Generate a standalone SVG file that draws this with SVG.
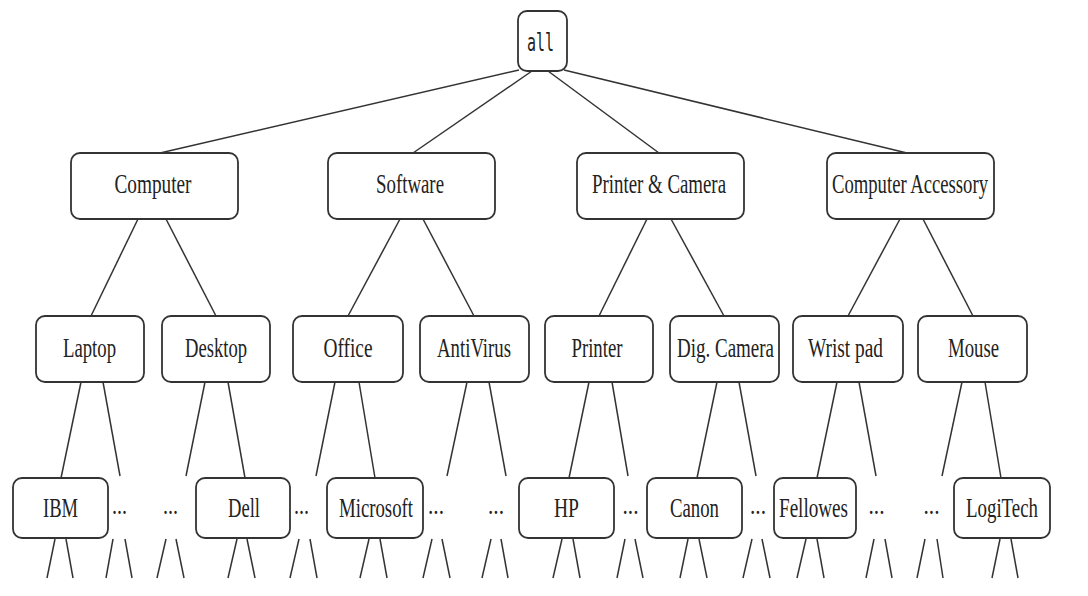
<svg xmlns="http://www.w3.org/2000/svg" width="1088" height="596" viewBox="0 0 1088 596">
<style>
.box{fill:#fff;stroke:#333;stroke-width:1.8}
.lbl{font-family:"Liberation Serif","Times New Roman",serif;font-size:27px;text-anchor:middle;fill:#222}
.mono{font-family:"DejaVu Sans Mono","Liberation Mono",monospace;font-size:24px;text-anchor:middle;fill:#222}
.edge line{stroke:#333;stroke-width:1.5;fill:none}
</style>
<rect width="1088" height="596" fill="#fff"/>
<g id="connectors" class="edge">
<line x1="519" y1="70" x2="160" y2="153"/>
<line x1="532" y1="71" x2="413" y2="153"/>
<line x1="548" y1="71" x2="659" y2="153"/>
<line x1="564" y1="70" x2="907" y2="153"/>
<line x1="138" y1="219" x2="91" y2="316"/>
<line x1="166" y1="219" x2="216" y2="316"/>
<line x1="400" y1="219" x2="348" y2="316"/>
<line x1="423" y1="219" x2="474" y2="316"/>
<line x1="647" y1="219" x2="599" y2="316"/>
<line x1="671" y1="219" x2="724" y2="316"/>
<line x1="900" y1="219" x2="848" y2="316"/>
<line x1="923" y1="219" x2="973" y2="316"/>
<line x1="81" y1="382" x2="61" y2="478"/>
<line x1="103" y1="382" x2="120" y2="476"/>
<line x1="205" y1="382" x2="186" y2="476"/>
<line x1="228" y1="382" x2="245" y2="478"/>
<line x1="335" y1="382" x2="316" y2="476"/>
<line x1="359" y1="382" x2="375" y2="478"/>
<line x1="467" y1="382" x2="447" y2="476"/>
<line x1="489" y1="382" x2="506" y2="476"/>
<line x1="589" y1="382" x2="569" y2="478"/>
<line x1="612" y1="382" x2="628" y2="476"/>
<line x1="717" y1="382" x2="697" y2="478"/>
<line x1="739" y1="382" x2="756" y2="476"/>
<line x1="837" y1="382" x2="817" y2="478"/>
<line x1="859" y1="382" x2="876" y2="476"/>
<line x1="962" y1="382" x2="942" y2="476"/>
<line x1="985" y1="382" x2="1001" y2="478"/>
<line x1="55" y1="539" x2="47" y2="578"/><line x1="66" y1="539" x2="73" y2="578"/>
<line x1="113" y1="539" x2="106" y2="578"/><line x1="125" y1="539" x2="132" y2="578"/>
<line x1="166" y1="539" x2="157" y2="578"/><line x1="176" y1="539" x2="184" y2="578"/>
<line x1="237" y1="539" x2="228" y2="578"/><line x1="247" y1="539" x2="255" y2="578"/>
<line x1="299" y1="539" x2="290" y2="578"/><line x1="310" y1="539" x2="317" y2="578"/>
<line x1="369" y1="539" x2="360" y2="578"/><line x1="380" y1="539" x2="387" y2="578"/>
<line x1="432" y1="539" x2="423" y2="578"/><line x1="442" y1="539" x2="450" y2="578"/>
<line x1="491" y1="539" x2="482" y2="578"/><line x1="501" y1="539" x2="508" y2="578"/>
<line x1="562" y1="539" x2="553" y2="578"/><line x1="573" y1="539" x2="580" y2="578"/>
<line x1="625" y1="539" x2="617" y2="578"/><line x1="635" y1="539" x2="643" y2="578"/>
<line x1="688" y1="539" x2="680" y2="578"/><line x1="699" y1="539" x2="707" y2="578"/>
<line x1="752" y1="539" x2="743" y2="578"/><line x1="762" y1="539" x2="770" y2="578"/>
<line x1="806" y1="539" x2="797" y2="578"/><line x1="817" y1="539" x2="824" y2="578"/>
<line x1="874" y1="539" x2="866" y2="578"/><line x1="885" y1="539" x2="892" y2="578"/>
<line x1="925" y1="539" x2="917" y2="578"/><line x1="937" y1="539" x2="943" y2="578"/>
<line x1="1000" y1="539" x2="992" y2="578"/><line x1="1011" y1="539" x2="1018" y2="578"/>
</g>
<g id="n-all"><rect class="box" x="518" y="11" width="49" height="60" rx="9"/><text class="mono" x="540.5" y="51" textLength="27" lengthAdjust="spacingAndGlyphs">all</text></g>
<g id="n-computer"><rect class="box" x="71" y="153" width="167" height="66" rx="9"/><text class="lbl" x="153" y="193" textLength="77" lengthAdjust="spacingAndGlyphs">Computer</text></g>
<g id="n-software"><rect class="box" x="328" y="153" width="167" height="66" rx="9"/><text class="lbl" x="410" y="193" textLength="68" lengthAdjust="spacingAndGlyphs">Software</text></g>
<g id="n-printer-camera"><rect class="box" x="577" y="153" width="167" height="66" rx="9"/><text class="lbl" x="659" y="193" textLength="134" lengthAdjust="spacingAndGlyphs">Printer &amp; Camera</text></g>
<g id="n-computer-accessory"><rect class="box" x="827" y="153" width="167" height="66" rx="9"/><text class="lbl" x="910" y="193" textLength="156" lengthAdjust="spacingAndGlyphs">Computer Accessory</text></g>
<g id="n-laptop"><rect class="box" x="36" y="316" width="108" height="66" rx="9"/><text class="lbl" x="89.5" y="357" textLength="53" lengthAdjust="spacingAndGlyphs">Laptop</text></g>
<g id="n-desktop"><rect class="box" x="162" y="316" width="108" height="66" rx="9"/><text class="lbl" x="216" y="357" textLength="62" lengthAdjust="spacingAndGlyphs">Desktop</text></g>
<g id="n-office"><rect class="box" x="293" y="316" width="110" height="66" rx="9"/><text class="lbl" x="348" y="357" textLength="49" lengthAdjust="spacingAndGlyphs">Office</text></g>
<g id="n-antivirus"><rect class="box" x="420" y="316" width="109" height="66" rx="9"/><text class="lbl" x="474" y="357" textLength="74" lengthAdjust="spacingAndGlyphs">AntiVirus</text></g>
<g id="n-printer"><rect class="box" x="545" y="316" width="108" height="66" rx="9"/><text class="lbl" x="597" y="357" textLength="51" lengthAdjust="spacingAndGlyphs">Printer</text></g>
<g id="n-digcamera"><rect class="box" x="670" y="316" width="109" height="66" rx="9"/><text class="lbl" x="725.5" y="357" textLength="97" lengthAdjust="spacingAndGlyphs">Dig. Camera</text></g>
<g id="n-wristpad"><rect class="box" x="793" y="316" width="110" height="66" rx="9"/><text class="lbl" x="845.5" y="357" textLength="75" lengthAdjust="spacingAndGlyphs">Wrist pad</text></g>
<g id="n-mouse"><rect class="box" x="918" y="316" width="109" height="66" rx="9"/><text class="lbl" x="973.5" y="357" textLength="51" lengthAdjust="spacingAndGlyphs">Mouse</text></g>
<g id="n-ibm"><rect class="box" x="13" y="478" width="95" height="60" rx="9"/><text class="lbl" x="60.5" y="517" textLength="35" lengthAdjust="spacingAndGlyphs">IBM</text></g>
<g id="n-dell"><rect class="box" x="196" y="478" width="94" height="60" rx="9"/><text class="lbl" x="244" y="517" textLength="32" lengthAdjust="spacingAndGlyphs">Dell</text></g>
<g id="n-microsoft"><rect class="box" x="327" y="478" width="96" height="60" rx="9"/><text class="lbl" x="376" y="517" textLength="74" lengthAdjust="spacingAndGlyphs">Microsoft</text></g>
<g id="n-hp"><rect class="box" x="519" y="478" width="95" height="60" rx="9"/><text class="lbl" x="566.5" y="517" textLength="25" lengthAdjust="spacingAndGlyphs">HP</text></g>
<g id="n-canon"><rect class="box" x="647" y="478" width="95" height="60" rx="9"/><text class="lbl" x="694.5" y="517" textLength="49" lengthAdjust="spacingAndGlyphs">Canon</text></g>
<g id="n-fellowes"><rect class="box" x="774" y="478" width="82" height="60" rx="9"/><text class="lbl" x="813.5" y="517" textLength="69" lengthAdjust="spacingAndGlyphs">Fellowes</text></g>
<g id="n-logitech"><rect class="box" x="954" y="478" width="96" height="60" rx="9"/><text class="lbl" x="1002" y="517" textLength="72" lengthAdjust="spacingAndGlyphs">LogiTech</text></g>
<g id="ellipses">
<text class="lbl" x="119.5" y="514" textLength="15" lengthAdjust="spacingAndGlyphs">...</text>
<text class="lbl" x="170.5" y="514" textLength="15" lengthAdjust="spacingAndGlyphs">...</text>
<text class="lbl" x="301.5" y="514" textLength="15" lengthAdjust="spacingAndGlyphs">...</text>
<text class="lbl" x="436" y="514" textLength="16" lengthAdjust="spacingAndGlyphs">...</text>
<text class="lbl" x="496" y="514" textLength="16" lengthAdjust="spacingAndGlyphs">...</text>
<text class="lbl" x="630.5" y="514" textLength="16" lengthAdjust="spacingAndGlyphs">...</text>
<text class="lbl" x="758" y="514" textLength="16" lengthAdjust="spacingAndGlyphs">...</text>
<text class="lbl" x="876.5" y="514" textLength="16" lengthAdjust="spacingAndGlyphs">...</text>
<text class="lbl" x="931.5" y="514" textLength="16" lengthAdjust="spacingAndGlyphs">...</text>
</g>
</svg>
